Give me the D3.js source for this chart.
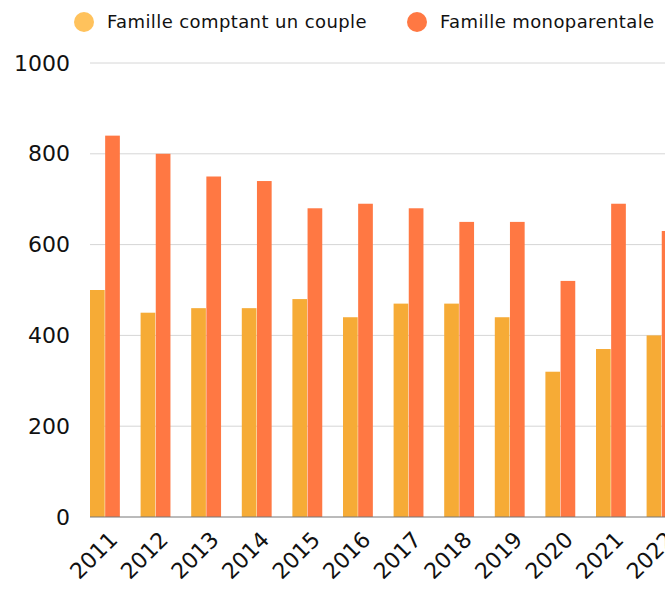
<!DOCTYPE html>
<html>
<head>
<meta charset="utf-8">
<script src="https://cdn.jsdelivr.net/npm/d3@7"></script>
<style>
  body { margin: 0; background: #fff; }
  svg text { font-family: "DejaVu Sans", sans-serif; fill: #111; }
</style>
</head>
<body>
<div id="chart"></div>
<script>
// data
const years = ["2011","2012","2013","2014","2015","2016","2017","2018","2019","2020","2021","2022"];
const couple = [500, 450, 460, 460, 480, 440, 470, 470, 440, 320, 370, 400];
const mono = [840, 800, 750, 740, 680, 690, 680, 650, 650, 520, 690, 630];
const seriesNames = ["Famille comptant un couple", "Famille monoparentale"];
const yTicks = [0, 200, 400, 600, 800, 1000];

const W = 665, H = 590;
const colors = ["#F6AB36", "#FF7843"];
const legendColors = ["#FFC25C", "#FF7843"];

const svg = d3.select("#chart").append("svg")
  .attr("width", W).attr("height", H);

// scales
const x = d3.scaleBand()
  .domain(years)
  .range([90, 90 + 11.59 * 50.6])
  .paddingInner(0.41)
  .paddingOuter(0)
  .align(0);

const sub = d3.scaleBand()
  .domain([0, 1])
  .range([0, x.bandwidth()])
  .paddingInner(0.03);

const y = d3.scaleLinear().domain([0, 1000]).range([517, 63]);

// grid lines
svg.append("g")
  .selectAll("line")
  .data(yTicks.slice(1))
  .join("line")
  .attr("x1", 90).attr("x2", W)
  .attr("y1", d => y(d)).attr("y2", d => y(d))
  .attr("stroke", "#d6d6d6").attr("stroke-width", 1);

// y labels
const yAxis = svg.append("g")
  .attr("transform", "translate(70,0)")
  .call(d3.axisLeft(y).tickValues(yTicks).tickFormat(d3.format("d")).tickSize(0).tickPadding(0));
yAxis.select(".domain").remove();
yAxis.selectAll("text")
  .attr("font-size", 22)
  .attr("font-family", "DejaVu Sans, sans-serif")
  .attr("fill", "#111");

// bars
const groups = svg.append("g")
  .selectAll("g")
  .data(years)
  .join("g")
  .attr("transform", d => `translate(${x(d)},0)`);

groups.append("rect")
  .attr("x", sub(0)).attr("width", sub.bandwidth())
  .attr("y", (d, i) => y(couple[i]))
  .attr("height", (d, i) => y(0) - y(couple[i]))
  .attr("fill", colors[0]);

groups.append("rect")
  .attr("x", sub(1)).attr("width", sub.bandwidth())
  .attr("y", (d, i) => y(mono[i]))
  .attr("height", (d, i) => y(0) - y(mono[i]))
  .attr("fill", colors[1]);

// x axis
const xAxis = svg.append("g")
  .attr("transform", `translate(0,${y(0)})`)
  .call(d3.axisBottom(x).tickSize(0).tickPadding(0));
xAxis.select(".domain").remove();
svg.append("line")
  .attr("x1", 90).attr("x2", W)
  .attr("y1", y(0)).attr("y2", y(0))
  .attr("stroke", "#777").attr("stroke-width", 1);

xAxis.selectAll("text")
  .attr("font-size", 22)
  .attr("font-family", "DejaVu Sans, sans-serif")
  .attr("fill", "#111")
  .attr("text-anchor", "end")
  .attr("dy", 0)
  .attr("transform", "translate(14,24) rotate(-45)");

// legend
const legend = svg.append("g");
const legendX = [84, 417];
seriesNames.forEach((name, i) => {
  legend.append("circle")
    .attr("cx", legendX[i]).attr("cy", 22).attr("r", 10)
    .attr("fill", legendColors[i]);
  legend.append("text")
    .attr("x", legendX[i] + 23).attr("y", 28)
    .attr("font-size", 18)
    .attr("letter-spacing", 0.4)
    .text(name);
});
</script>
</body>
</html>
